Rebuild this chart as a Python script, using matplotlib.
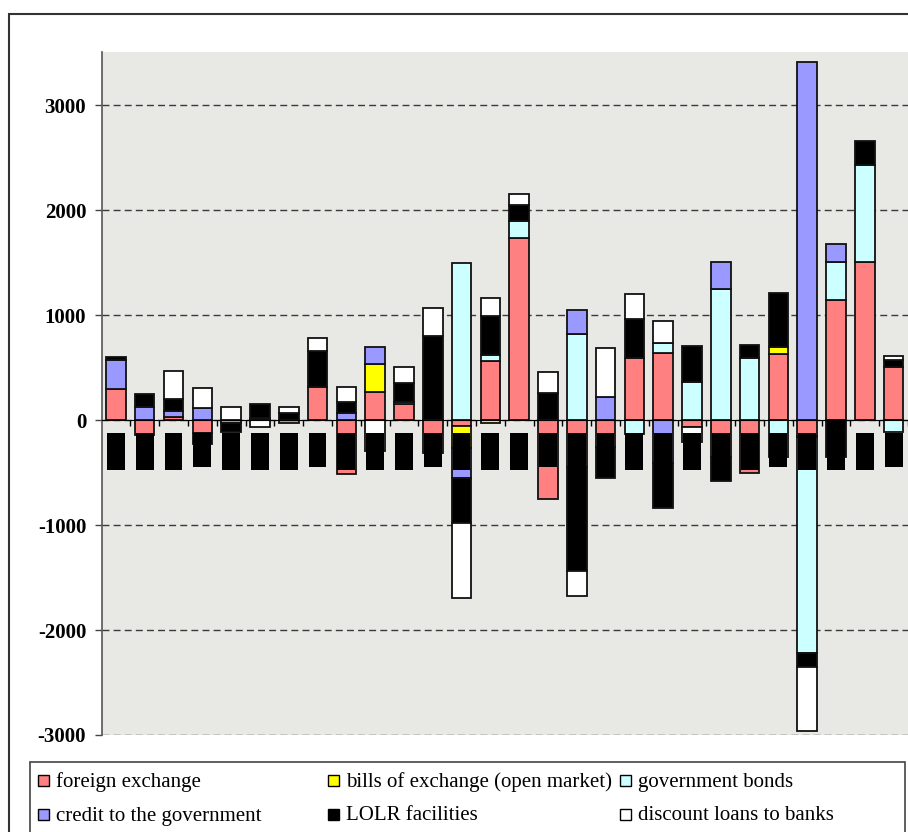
import numpy as np
import matplotlib
matplotlib.use("Agg")
import matplotlib.pyplot as plt
from matplotlib.patches import Rectangle

# One signed value per year for each channel (positive stacks up, negative down)
series_names = [
    "foreign exchange",
    "bills of exchange (open market)",
    "government bonds",
    "credit to the government",
    "LOLR facilities",
    "discount loans to banks",
]
series_colors = ["#FF8080", "#FFFF00", "#CCFFFF", "#9999FF", "#000000", "#FFFFFF"]

foreign_exchange = [300, -140, 25, -125, -32, 20, -32, 311, -518, 270,
                    152, -317, -57, 562, 1730, -750, -450, -254, 587, 641,
                    -63, -356, -500, 625, -150, 1143, 1508, 508]
bills_of_exchange = [0, 0, 0, 0, 0, 0, 0, 0, 0, 260,
                     0, 0, -213, -28, 0, 0, 0, 0, 0, 0,
                     0, 0, 0, 73, -15, 0, 0, 0]
government_bonds = [0, 0, 0, 0, 0, 0, 0, 0, 0, 0,
                    0, 0, 1492, 57, 165, 0, 819, 0, -130, 89,
                    359, 1248, 587, -356, -2057, 365, 921, -111]
credit_to_government = [270, 127, 60, 118, 0, 0, 0, 0, 70, 168,
                        23, 0, -286, 0, 0, 0, 229, 222, 0, -413,
                        0, 260, 0, 0, 3413, 168, 0, 0]
lolr_facilities = [27, 118, 115, -107, -79, 132, 70, 349, 98, 0,
                   181, 800, -428, 375, 153, 260, -988, -302, 375, -428,
                   346, -225, 127, 508, -133, -356, 228, 63]
discount_loans = [0, 0, 270, 187, 121, -63, 51, 118, 149, -292,
                  146, 263, -708, 165, 101, 197, -238, 461, 238, 213,
                  -143, 0, 0, 0, -604, 0, 0, 39]

# year labels along the zero line come out as solid blocks
label_top = -121
label_bottom = [-476, -476, -476, -444, -476, -476, -476, -444, -476, -476,
                -476, -444, -476, -476, -476, -450, -476, -476, -476, -476,
                -476, -476, -476, -451, -476, -476, -476, -451]

y_ticks = [-3000, -2000, -1000, 0, 1000, 2000, 3000]

all_series = [foreign_exchange, bills_of_exchange, government_bonds,
              credit_to_government, lolr_facilities, discount_loans]

W, H = 908, 832
fig = plt.figure(figsize=(W / 100, H / 100), dpi=100)


def fx(px):
    return px / W


def fy(py):
    return 1 - py / H


ax = fig.add_axes([fx(101.5), fy(735), fx(908) - fx(101.5), fy(52) - fy(735)])
ax.set_facecolor("#e8e8e5")

x = np.arange(len(foreign_exchange))
pos_base = np.zeros(len(x))
neg_base = np.zeros(len(x))

for values, color in zip(all_series, series_colors):
    values = np.array(values, dtype=float)
    pos = np.where(values > 0, values, 0)
    neg = np.where(values < 0, values, 0)
    ax.bar(x[pos > 0], pos[pos > 0], bottom=pos_base[pos > 0], width=0.68,
           color=color, edgecolor="#111111", linewidth=1.3, zorder=2)
    ax.bar(x[neg < 0], neg[neg < 0], bottom=neg_base[neg < 0], width=0.68,
           color=color, edgecolor="#111111", linewidth=1.3, zorder=2)
    pos_base += pos
    neg_base += neg

label_heights = np.array(label_bottom) - label_top
ax.bar(x, label_heights, bottom=label_top, width=0.62, color="black",
       linewidth=0, zorder=3)

ax.set_xlim(-0.5, 27.5)
ax.set_ylim(-3000, 3505)

ax.set_yticks(y_ticks)
ax.set_yticklabels([str(t) for t in y_ticks], fontfamily="Liberation Serif",
                   fontweight="bold", fontsize=15)
ax.tick_params(axis="y", direction="out", length=5, width=1, pad=6,
               color="#444444")

ax.set_xticks(x + 0.5)
ax.set_xticklabels([])
ax.tick_params(axis="x", direction="out", length=4, width=1, color="black")

ax.spines["top"].set_visible(False)
ax.spines["right"].set_visible(False)
ax.spines["left"].set_color("#555555")
ax.spines["left"].set_linewidth(1.2)
ax.spines["bottom"].set_position(("data", 0))
ax.spines["bottom"].set_color("black")
ax.spines["bottom"].set_zorder(4)

ax.set_axisbelow(True)
ax.yaxis.grid(True, color="#3a3a3a", linewidth=1, linestyle=(0, (5, 3)))

# outer chart border and legend box (both run past the right/bottom edge)
fig.patches.append(Rectangle((fx(9), fy(900)), fx(1000) - fx(9), fy(14) - fy(900),
                             transform=fig.transFigure, fill=False,
                             edgecolor="#333333", linewidth=1.5))
fig.patches.append(Rectangle((fx(30), fy(900)), fx(905) - fx(30), fy(762) - fy(900),
                             transform=fig.transFigure, fill=False,
                             edgecolor="#444444", linewidth=1.2))

col_x = [38, 328, 620]
row_y = [781, 815]
for i, (name, color) in enumerate(zip(series_names, series_colors)):
    cx = col_x[i % 3]
    cy = row_y[i // 3]
    fig.patches.append(Rectangle((fx(cx), fy(cy + 5)), fx(11), fy(0) - fy(11),
                                 transform=fig.transFigure, facecolor=color,
                                 edgecolor="black", linewidth=1))
    fig.text(fx(cx + 18), fy(cy + 5.5), name, fontfamily="Liberation Serif",
             fontsize=15, va="baseline", ha="left")

fig.savefig("out.png", dpi=100)
plt.close(fig)
